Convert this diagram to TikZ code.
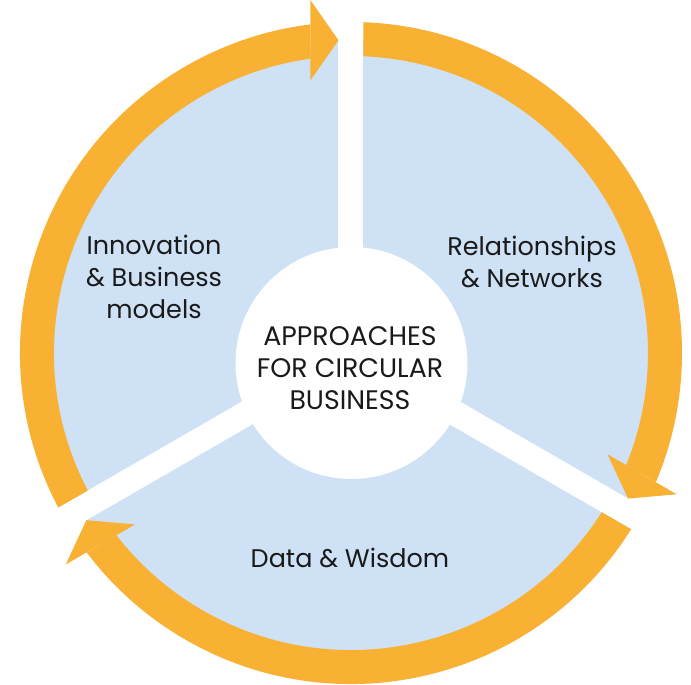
\documentclass[tikz,border=0pt]{standalone}
\usepackage{fontspec}
\setmainfont{Poppins}
\definecolor{ringorange}{HTML}{F8B133}
\definecolor{sectorblue}{HTML}{CFE1F4}
\definecolor{labeltext}{HTML}{1A1A1A}
\begin{document}
\begin{tikzpicture}[x=1pt,y=1pt,
  label/.style={align=center,text=labeltext,font=\fontsize{25.5}{32}\selectfont,inner sep=0pt},
  centrelabel/.style={label,font=\fontsize{26.8}{32}\selectfont},
  gapstrip/.style={white,line width=25pt},
  ringpart/.style={fill=ringorange,even odd rule},
  arrowtip/.style={fill=ringorange}]
\useasboundingbox (-351,353) rectangle (340,-332);
% blue disc
\fill[sectorblue] (0,0) circle (313);
% white gaps
\foreach \a in {90,-30,210}
  \draw[gapstrip] (0,0) -- (\a:400);
% three orange ring parts with arrowheads
\foreach \r in {0,-120,120}{
  \begin{scope}[rotate=\r]
    \begin{scope}
      \clip (12.5,39.55) -- (12.5,900) -- (1200,900) -- (1225,-660) -- cycle;
      \fill[ringpart] (0,0) circle (331) circle (297);
    \end{scope}
    \fill[arrowtip] (277.1,-145.55) -- (325.74,-141.3) -- (256.46,-101.3) -- cycle;
  \end{scope}
}
% centre
\fill[white] (0.5,-10) circle (116);
\node[centrelabel] (centre) at (-1,-15) {APPROACHES\\FOR CIRCULAR\\BUSINESS};
\node[label] (innov) at (-197,76.5) {Innovation\\\& Business\\models};
\node[label] (rel) at (181,91) {Relationships\\\& Networks};
\node[label] (data) at (-1,-204.5) {Data \& Wisdom};
\end{tikzpicture}
\end{document}
